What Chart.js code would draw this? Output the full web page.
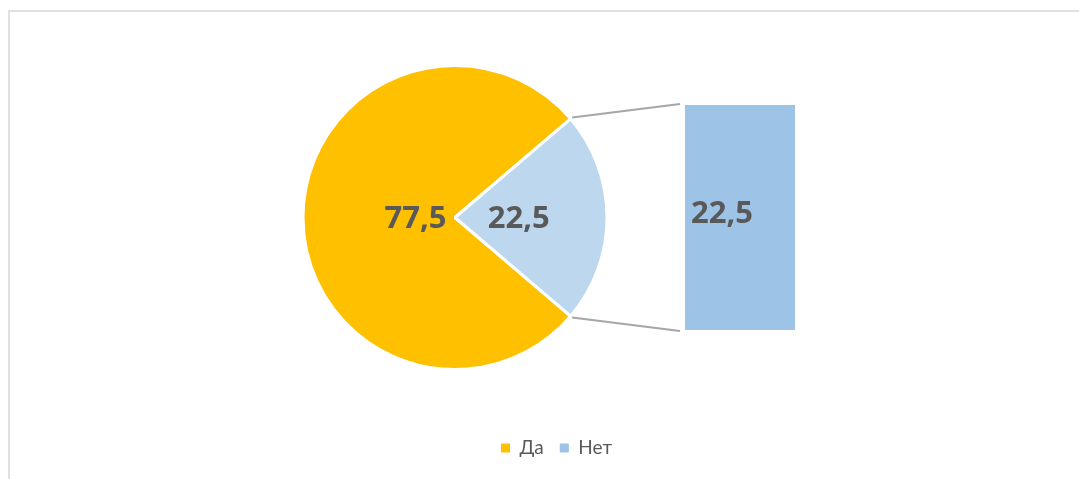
<!DOCTYPE html>
<html>
<head>
<meta charset="utf-8">
<script src="https://cdn.jsdelivr.net/npm/chart.js@4.4.0/dist/chart.umd.min.js"></script>
<style>
  html, body { margin: 0; padding: 0; background: #fff; }
  #wrap { position: relative; width: 1079px; height: 479px; overflow: hidden; }
  #frame { position: absolute; left: 8px; top: 10px; width: 1200px; height: 600px;
           border-left: 2px solid #e0e0e0; border-top: 2px solid #e0e0e0; }
  canvas { position: absolute; left: 0; top: 0; }
</style>
</head>
<body>
<div id="wrap">
  <div id="frame"></div>
  <canvas id="pie" width="1079" height="479"></canvas>
  <canvas id="bar" width="1079" height="479"></canvas>
</div>
<script>
// data
const categories = ['Да', 'Нет'];
const pieValues = [77.5, 22.5];
const barCategories = ['Нет'];
const barValues = [22.5];

const textColor = '#595959';
const labelFont = 'bold 31px "Open Sans"';

function fmt(v) {
    return v.toFixed(1).replace('.', ',');
}

// labels inside the pie slices (distance from centre as part of radius)
const labelRadius = [0.26, 0.42];
const pieLabels = {
    id: 'pieLabels',
    afterDatasetsDraw(chart) {
        const ctx = chart.ctx;
        const meta = chart.getDatasetMeta(0);
        const data = chart.data.datasets[0].data;
        ctx.save();
        ctx.font = labelFont;
        ctx.fillStyle = textColor;
        ctx.textAlign = 'center';
        ctx.textBaseline = 'middle';
        meta.data.forEach((arc, i) => {
            const mid = (arc.startAngle + arc.endAngle) / 2;
            const d = arc.outerRadius * labelRadius[i];
            ctx.fillText(fmt(data[i]), arc.x + Math.cos(mid) * d, arc.y + Math.sin(mid) * d + 2);
        });
        ctx.restore();
    }
};

const pieChart = new Chart(document.getElementById('pie'), {
    type: 'pie',
    data: {
        labels: categories,
        datasets: [{
            data: pieValues,
            backgroundColor: ['#FFC000', '#BDD7EE'],
            borderColor: '#ffffff',
            borderWidth: 3
        }]
    },
    options: {
        responsive: false,
        animation: false,
        rotation: 130.5,
        radius: 152,
        layout: { padding: { left: 282, right: 451, top: 12.5, bottom: 11.5 } },
        plugins: {
            tooltip: { enabled: false },
            legend: {
                position: 'bottom',
                align: 'end',
                labels: {
                    boxWidth: 9,
                    boxHeight: 9,
                    padding: 16,
                    color: textColor,
                    font: { family: 'Lato', size: 19 },
                    generateLabels: () => categories.map((c, i) => ({
                        text: c,
                        fillStyle: ['#FFC000', '#9DC3E6'][i],
                        strokeStyle: ['#FFC000', '#9DC3E6'][i],
                        lineWidth: 0,
                        fontColor: textColor,
                        hidden: false,
                        index: i
                    }))
                }
            }
        }
    },
    plugins: [pieLabels]
});

// connector lines + label of the secondary bar
const barExtras = {
    id: 'barExtras',
    afterDatasetsDraw(chart) {
        const ctx = chart.ctx;
        const bar = chart.getDatasetMeta(0).data[0];
        const arc = pieChart.getDatasetMeta(0).data[1];
        const left = bar.x - bar.width / 2;
        const r = arc.outerRadius + 2;

        ctx.save();
        ctx.strokeStyle = '#a6a6a6';
        ctx.lineWidth = 2;
        ctx.beginPath();
        ctx.moveTo(arc.x + Math.cos(arc.startAngle) * r, arc.y + Math.sin(arc.startAngle) * r);
        ctx.lineTo(left - 5, bar.y - 1);
        ctx.moveTo(arc.x + Math.cos(arc.endAngle) * r, arc.y + Math.sin(arc.endAngle) * r);
        ctx.lineTo(left - 5, bar.base + 1);
        ctx.stroke();

        ctx.font = labelFont;
        ctx.fillStyle = textColor;
        ctx.textAlign = 'left';
        ctx.textBaseline = 'middle';
        ctx.fillText(fmt(barValues[0]), left + 6, (bar.y + bar.base) / 2 - 3);
        ctx.restore();
    }
};

new Chart(document.getElementById('bar'), {
    type: 'bar',
    data: {
        labels: barCategories,
        datasets: [{
            data: barValues,
            backgroundColor: '#9DC3E6',
            borderWidth: 0,
            barPercentage: 1,
            categoryPercentage: 1
        }]
    },
    options: {
        responsive: false,
        animation: false,
        layout: { padding: { left: 685, right: 284, top: 105, bottom: 149 } },
        scales: {
            x: { display: false },
            y: { display: false, min: 0, max: barValues.reduce((a, b) => a + b, 0) }
        },
        plugins: {
            legend: { display: false },
            tooltip: { enabled: false }
        }
    },
    plugins: [barExtras]
});
</script>
</body>
</html>
